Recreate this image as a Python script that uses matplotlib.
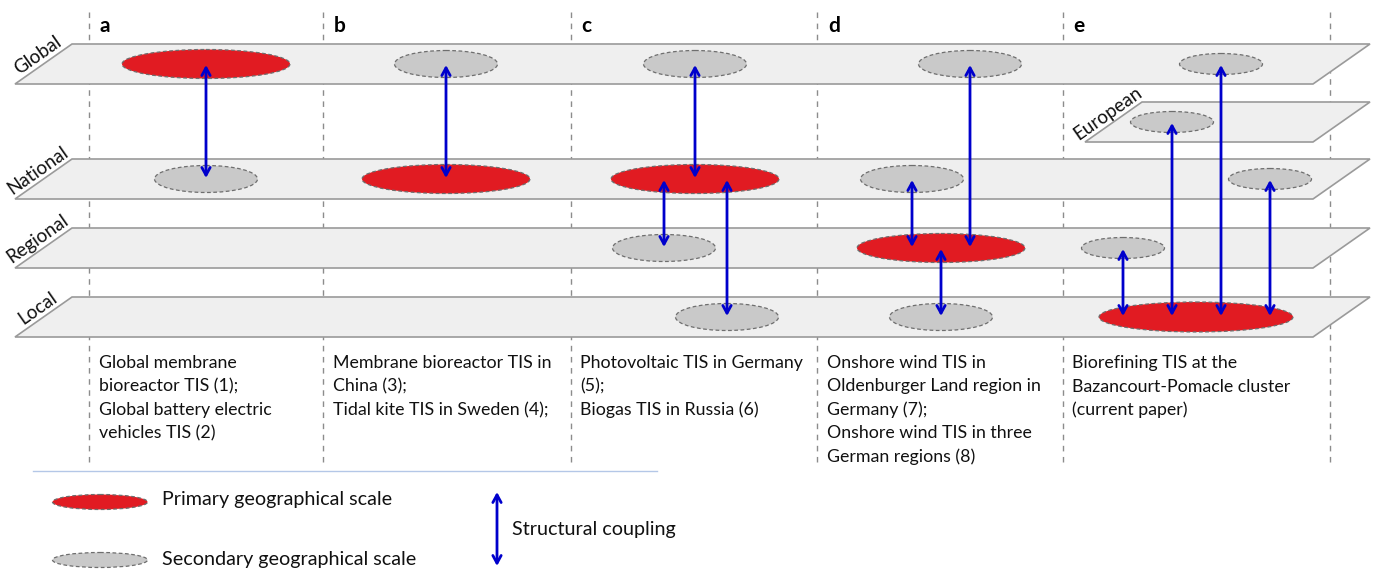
import matplotlib
matplotlib.use("Agg")
import matplotlib.pyplot as plt
from matplotlib.patches import Polygon, Ellipse

# ---------------- data ----------------
panels = ['a', 'b', 'c', 'd', 'e']
levels = ['Global', 'European', 'National', 'Regional', 'Local']

descriptions = [
    ["Global membrane", "bioreactor TIS (1);", "Global battery electric", "vehicles TIS (2)"],
    ["Membrane bioreactor TIS in", "China (3);", "Tidal kite TIS in Sweden (4);"],
    ["Photovoltaic TIS in Germany", "(5);", "Biogas TIS in Russia (6)"],
    ["Onshore wind TIS in", "Oldenburger Land region in", "Germany (7);",
     "Onshore wind TIS in three", "German regions (8)"],
    ["Biorefining TIS at the", "Bazancourt-Pomacle cluster", "(current paper)"],
]

# scale nodes per panel: (panel, level, kind)
nodes_panel = ['a', 'a', 'b', 'b', 'c', 'c', 'c', 'c',
               'd', 'd', 'd', 'd', 'e', 'e', 'e', 'e', 'e']
nodes_level = ['Global', 'National', 'Global', 'National',
               'Global', 'National', 'Regional', 'Local',
               'Global', 'National', 'Regional', 'Local',
               'Global', 'European', 'National', 'Regional', 'Local']
nodes_kind = ['primary', 'secondary', 'secondary', 'primary',
              'secondary', 'primary', 'secondary', 'secondary',
              'secondary', 'secondary', 'primary', 'secondary',
              'secondary', 'secondary', 'secondary', 'secondary', 'primary']

# structural couplings: (panel, from level, to level)
coup_panel = ['a', 'b', 'c', 'c', 'c', 'd', 'd', 'd', 'e', 'e', 'e', 'e']
coup_from = ['Global', 'Global', 'Global', 'National', 'National',
             'Global', 'National', 'Regional',
             'Global', 'European', 'National', 'Regional']
coup_to = ['National', 'National', 'National', 'Regional', 'Local',
           'Regional', 'Regional', 'Local',
           'Local', 'Local', 'Local', 'Local']

legend_labels = ["Primary geographical scale", "Secondary geographical scale",
                 "Structural coupling"]

# ---------------- layout (pixels) ----------------
W, H = 1373, 573
FONT = ['Lato', 'DejaVu Sans']
RED = '#e11b22'
GREY = '#c9c9c9'
BLUE = '#0000cc'
PLANE_FILL = '#efefef'
PLANE_EDGE = '#9a9a9a'
TXT = '#111111'

plane_top = {'Global': 44, 'European': 102, 'National': 159, 'Regional': 228, 'Local': 297}
plane_h = 40
plane_dx = 57
plane_left = {lv: 72 for lv in levels}
plane_left['European'] = 1142
plane_right = 1370

divider_x = [89, 323, 571, 817, 1063, 1330]
letter_x = [100, 334, 581, 828, 1073]

# ellipse x-centers per node (layout)
node_x = [206, 206, 446, 446, 695, 695, 664, 727,
          970, 912, 941, 941, 1221, 1172, 1270, 1123, 1196]
# coupling arrow x positions (layout)
coup_x = [206, 446, 695, 664, 727, 970, 912, 941, 1221, 1172, 1270, 1123]

fig = plt.figure(figsize=(W / 100, H / 100), dpi=100)
ax = fig.add_axes([0, 0, 1, 1])
ax.set_xlim(0, W)
ax.set_ylim(H, 0)
ax.axis('off')

# dashed dividers
for x in divider_x:
    ax.plot([x, x], [12, 462], color='#8c8c8c', lw=1, ls=(0, (4, 4)), zorder=1)

# planes
for lv in levels:
    t = plane_top[lv]
    b = t + plane_h
    xl = plane_left[lv]
    poly = Polygon([(xl, t), (plane_right, t), (plane_right - plane_dx, b),
                    (xl - plane_dx, b)], closed=True, facecolor=PLANE_FILL,
                   edgecolor=PLANE_EDGE, lw=1.2, zorder=2)
    ax.add_patch(poly)
    # level label along slanted edge
    mx = xl - plane_dx / 2
    my = t + plane_h / 2
    ax.text(mx - 1, my - 2, lv, rotation=35, rotation_mode='anchor',
            ha='center', va='bottom', fontsize=13.5, family=FONT, color=TXT,
            zorder=5)

def ycenter(lv):
    return plane_top[lv] + plane_h / 2

# ellipses
for p, lv, k, x in zip(nodes_panel, nodes_level, nodes_kind, node_x):
    yc = ycenter(lv)
    if k == 'primary':
        w, h = (194, 30) if p == 'e' else (168, 29)
        fc = RED
    else:
        w, h = (83, 21) if p == 'e' else (103, 27)
        fc = GREY
    e = Ellipse((x, yc), w, h, facecolor=fc, edgecolor='#6e6e6e', lw=0.9,
                ls=(0, (3, 2)), zorder=3)
    ax.add_patch(e)

# couplings
for p, a, b, x in zip(coup_panel, coup_from, coup_to, coup_x):
    ya = ycenter(a) + 1
    yb = ycenter(b) - 1
    ax.annotate('', xy=(x, yb), xytext=(x, ya),
                arrowprops=dict(arrowstyle='<->,head_length=0.55,head_width=0.3',
                                color=BLUE, lw=2, shrinkA=0, shrinkB=0),
                zorder=4)

# panel letters
for lt, x in zip(panels, letter_x):
    ax.text(x, 26, lt, fontsize=15, fontweight='bold', family=FONT,
            ha='left', va='center', zorder=5)

# descriptions
for lines, x in zip(descriptions, letter_x):
    for i, ln in enumerate(lines):
        ax.text(x - 1, 368 + i * 23.5, ln, fontsize=12.8, family=FONT,
                ha='left', va='baseline', color=TXT, zorder=5)

# legend
ax.plot([33, 657], [471, 471], color='#b4c7e7', lw=1, zorder=1)
ax.add_patch(Ellipse((100, 502), 95, 15, facecolor=RED, edgecolor='#6e6e6e',
                     lw=0.9, ls=(0, (3, 2)), zorder=3))
ax.add_patch(Ellipse((100, 560), 95, 15, facecolor=GREY, edgecolor='#6e6e6e',
                     lw=0.9, ls=(0, (3, 2)), zorder=3))
ax.text(162, 500, legend_labels[0], fontsize=14.2, family=FONT, ha='left',
        va='center', color=TXT)
ax.text(162, 559, legend_labels[1], fontsize=14.2, family=FONT, ha='left',
        va='center', color=TXT)
ax.annotate('', xy=(497, 566), xytext=(497, 492),
            arrowprops=dict(arrowstyle='<->,head_length=0.55,head_width=0.3',
                            color=BLUE, lw=2, shrinkA=0, shrinkB=0))
ax.text(512, 530, legend_labels[2], fontsize=14.2, family=FONT, ha='left',
        va='center', color=TXT)

fig.savefig('out.png', dpi=100)
